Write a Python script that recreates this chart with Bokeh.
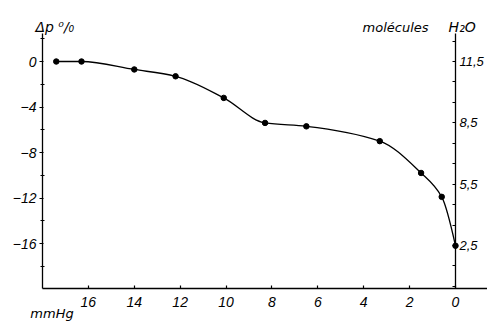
import numpy as np
from bokeh.plotting import figure
from bokeh.models import Range1d, LinearAxis, FixedTicker, Label
from bokeh.embed import file_html
from bokeh.resources import INLINE

# ---- data ----
pressure_mmhg = [17.4, 16.3, 14.0, 12.2, 10.1, 8.3, 6.5, 3.3, 1.5, 0.6, 0.0]
delta_p_pct = [0.0, 0.0, -0.7, -1.3, -3.2, -5.4, -5.7, -7.0, -9.8, -11.9, -16.2]

x_ticks = [16, 14, 12, 10, 8, 6, 4, 2, 0]
y_ticks = [0, -4, -8, -12, -16]
y_minor = [2, -2, -6, -10, -14, -18]
mol_ticks = [11.5, 8.5, 5.5, 2.5]
mol_labels = ["11,5", "8,5", "5,5", "2,5"]
mol_minor = [12.5, 10.5, 9.5, 7.5, 6.5, 4.5, 3.5, 1.5, 0.5]

# axis extents (data units)
X_LEFT, X_RIGHT = 18.0, -1.395
Y_TOP, Y_BOTTOM = 2.46, -19.956
MOL_TOP, MOL_BOTTOM = 12.87, 0.394

FONT = "Liberation Sans"
TFONT = "DejaVu Sans"

p = figure(width=487, height=322,
           x_range=Range1d(19.83, -1.395), y_range=Range1d(-22.945, 5.363),
           output_backend="svg", toolbar_location=None,
           min_border=0, min_border_left=0, min_border_right=0,
           min_border_top=0, min_border_bottom=0)
p.extra_y_ranges = {"mol": Range1d(-1.269, 14.484)}
p.xgrid.visible = False
p.ygrid.visible = False
p.outline_line_color = None
p.background_fill_color = "white"
p.border_fill_color = "white"

# ---- axes ----
xa = p.xaxis[0]
ya = p.yaxis[0]
xa.fixed_location = Y_BOTTOM
xa.bounds = (X_RIGHT, X_LEFT)
ya.fixed_location = X_LEFT
ya.bounds = (Y_BOTTOM, Y_TOP)

for ax in (xa, ya):
    ax.axis_line_color = "black"
    ax.axis_line_width = 1.3
    ax.major_tick_line_color = "black"
    ax.minor_tick_line_color = "black"
    ax.major_tick_line_width = 1.2
    ax.minor_tick_line_width = 1.0
    ax.major_label_text_font = FONT
    ax.major_label_text_font_style = "italic"
    ax.major_label_text_font_size = "14px"
    ax.major_label_text_color = "black"

xa.ticker = FixedTicker(ticks=x_ticks)
xa.major_tick_in = 3
xa.major_tick_out = 0
xa.major_label_standoff = 8

ya.ticker = FixedTicker(ticks=y_ticks, minor_ticks=y_minor)
ya.major_tick_in = 1
ya.major_tick_out = 3
ya.minor_tick_in = 2
ya.minor_tick_out = 2
ya.major_label_standoff = 3

mol_axis = LinearAxis(y_range_name="mol", fixed_location=0,
                      bounds=(MOL_BOTTOM, MOL_TOP),
                      ticker=FixedTicker(ticks=mol_ticks, minor_ticks=mol_minor),
                      major_label_overrides=dict(zip(mol_ticks, mol_labels)))
mol_axis.axis_line_color = "black"
mol_axis.axis_line_width = 1.3
mol_axis.major_tick_line_color = "black"
mol_axis.minor_tick_line_color = "black"
mol_axis.major_tick_in = 3
mol_axis.major_tick_out = 0
mol_axis.minor_tick_in = 3
mol_axis.minor_tick_out = 0
mol_axis.major_label_standoff = 4
mol_axis.major_label_text_font = FONT
mol_axis.major_label_text_font_style = "italic"
mol_axis.major_label_text_font_size = "13px"
mol_axis.major_label_text_color = "black"
p.add_layout(mol_axis, "right")

# ---- smooth curve (monotone cubic Hermite through the points, drawn as beziers) ----
xs = np.array(pressure_mmhg[::-1], dtype=float)
ys = np.array(delta_p_pct[::-1], dtype=float)
h = np.diff(xs)
d = np.diff(ys) / h
n = len(xs)
m = np.zeros(n)
for i in range(1, n - 1):
    if d[i - 1] * d[i] <= 0:
        m[i] = 0.0
    else:
        w1 = 2 * h[i] + h[i - 1]
        w2 = h[i] + 2 * h[i - 1]
        m[i] = (w1 + w2) / (w1 / d[i - 1] + w2 / d[i])

def end_slope(h0, h1, d0, d1):
    s = ((2 * h0 + h1) * d0 - h0 * d1) / (h0 + h1)
    if np.sign(s) != np.sign(d0):
        s = 0.0
    elif np.sign(d0) != np.sign(d1) and abs(s) > abs(3 * d0):
        s = 3 * d0
    return s

m[0] = end_slope(h[0], h[1], d[0], d[1])
m[-1] = end_slope(h[-1], h[-2], d[-1], d[-2])

x0 = xs[:-1]; y0 = ys[:-1]
x1 = xs[1:]; y1 = ys[1:]
cx0 = x0 + h / 3; cy0 = y0 + m[:-1] * h / 3
cx1 = x1 - h / 3; cy1 = y1 - m[1:] * h / 3
p.bezier(x0=x0, y0=y0, x1=x1, y1=y1, cx0=cx0, cy0=cy0, cx1=cx1, cy1=cy1,
         line_color="black", line_width=1.3)

p.scatter(pressure_mmhg, delta_p_pct, size=5.5, color="black")

# ---- texts ----
def lab(x, y, text, size, **kw):
    p.add_layout(Label(x=x, y=y, text=text, text_font=TFONT,
                       text_font_style="italic", text_font_size=size,
                       text_baseline="alphabetic", text_color="black", **kw))

lab(18.31, 2.99, "Δp ⁰/₀", "14px")
lab(4.05, 2.99, "molécules", "13px")
lab(0.30, 2.99, "H₂O", "14px")
lab(18.53, -22.15, "mmHg", "13px")

open("out.html", "w").write(file_html(p, INLINE))
